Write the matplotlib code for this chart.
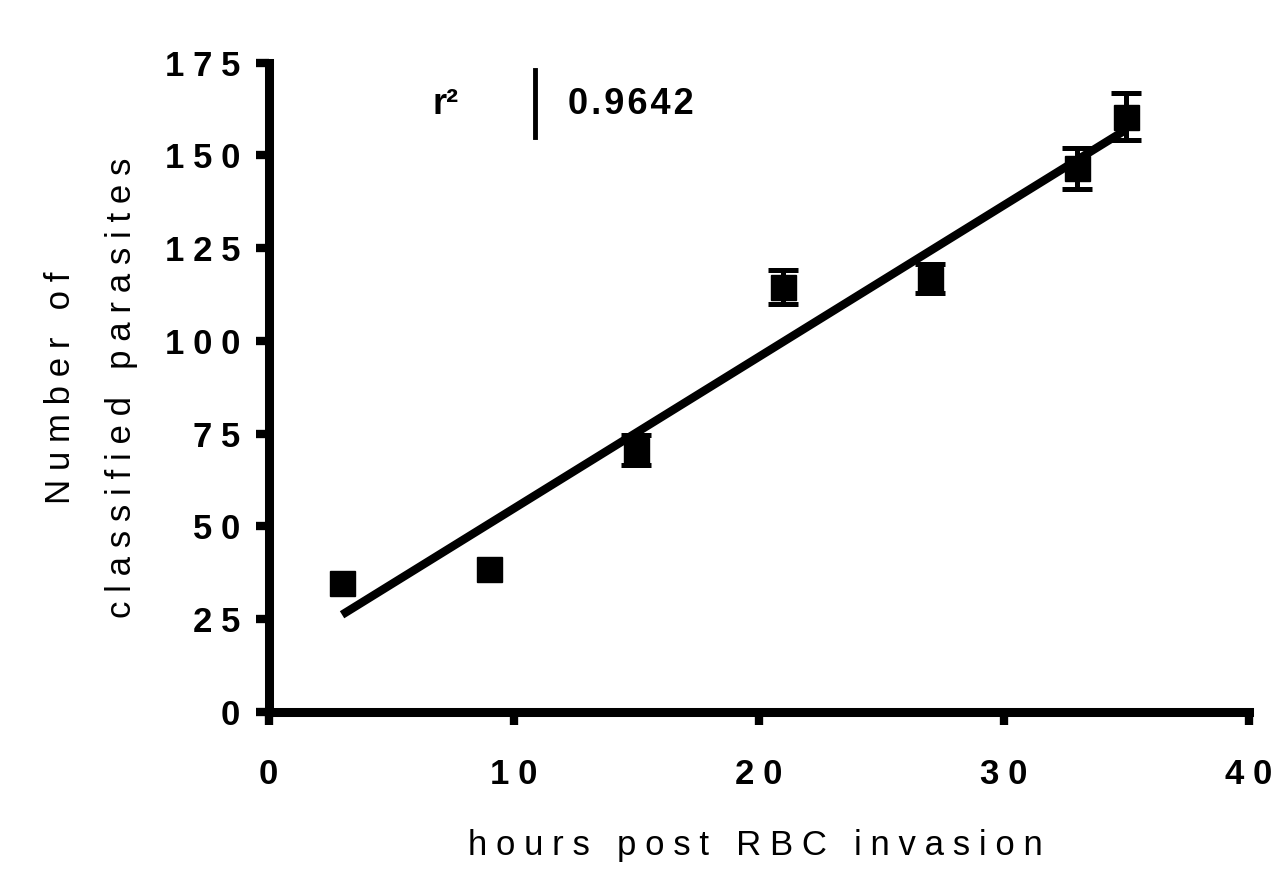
import numpy as np
import matplotlib.pyplot as plt
from matplotlib.lines import Line2D

plt.rcParams['font.family'] = ['Liberation Sans', 'DejaVu Sans']

# data
hours = [3, 9, 15, 21, 27, 33, 35]
parasites = [34.6, 38.4, 70.5, 114.5, 116.7, 146.5, 160.5]
sd = [0, 0, 4.0, 4.5, 3.9, 5.5, 6.3]

x_ticks = [0, 10, 20, 30, 40]
y_ticks = [0, 25, 50, 75, 100, 125, 150, 175]
r2_text = "0.9642"

TRACK = "\u2005"  # quarter-em space, used as letter tracking


def spaced(s, sep=TRACK):
    return sep.join(s)


fig = plt.figure(figsize=(12.71, 8.73), dpi=100)
ax = fig.add_axes([0.2113, 0.1848, 0.7710, 0.7433])

# linear fit over the measured range
slope, intercept = np.polyfit(hours, parasites, 1)
xf = np.array([hours[0], hours[-1]])
ax.plot(xf, slope * xf + intercept, color='black', lw=6, solid_capstyle='butt', zorder=2)

# error bars only where SD is shown, then the square markers
idx = [i for i, s in enumerate(sd) if s > 0]
ax.errorbar([hours[i] for i in idx], [parasites[i] for i in idx],
            yerr=[sd[i] for i in idx], fmt='none', ecolor='black',
            elinewidth=3.6, capsize=10.5, capthick=3.6, zorder=3)
ax.plot(hours, parasites, 's', color='black', ms=18, zorder=4)

ax.set_xlim(0, 40)
ax.set_ylim(0, 175)
ax.set_xticks(x_ticks)
ax.set_yticks(y_ticks)
ax.set_xticklabels([spaced(str(t)) for t in x_ticks])
ax.set_yticklabels([spaced(str(t)) for t in y_ticks])

for s in ['top', 'right']:
    ax.spines[s].set_visible(False)
for s in ['left', 'bottom']:
    ax.spines[s].set_linewidth(6.5)

ax.tick_params(width=6, length=9.5, direction='out', labelsize=25)
ax.tick_params(axis='x', pad=24)
ax.tick_params(axis='y', pad=11)
for lab in ax.get_xticklabels() + ax.get_yticklabels():
    lab.set_fontweight('bold')

fig.text(0.5944, 1 - 845 / 873, spaced("hours post RBC invasion"),
         fontsize=25, ha='center', va='center')
fig.text(91 / 1271, 1 - 388 / 873,
         spaced("Number of") + "\n" + spaced("classified parasites"),
         fontsize=25, rotation=90, ha='center', va='center',
         multialignment='center', linespacing=2.1)

# r^2 table
ax.text(0.181, 0.935, "r²", transform=ax.transAxes, fontsize=26,
        fontweight='bold', ha='center', va='center')
ax.add_line(Line2D([0.272, 0.272], [0.886, 0.989], transform=ax.transAxes,
                   color='black', lw=3.5))
ax.text(0.3055, 0.935, spaced(r2_text, "\u200a"), transform=ax.transAxes,
        fontsize=26, fontweight='bold', ha='left', va='center')

fig.savefig('out.png', dpi=100)
